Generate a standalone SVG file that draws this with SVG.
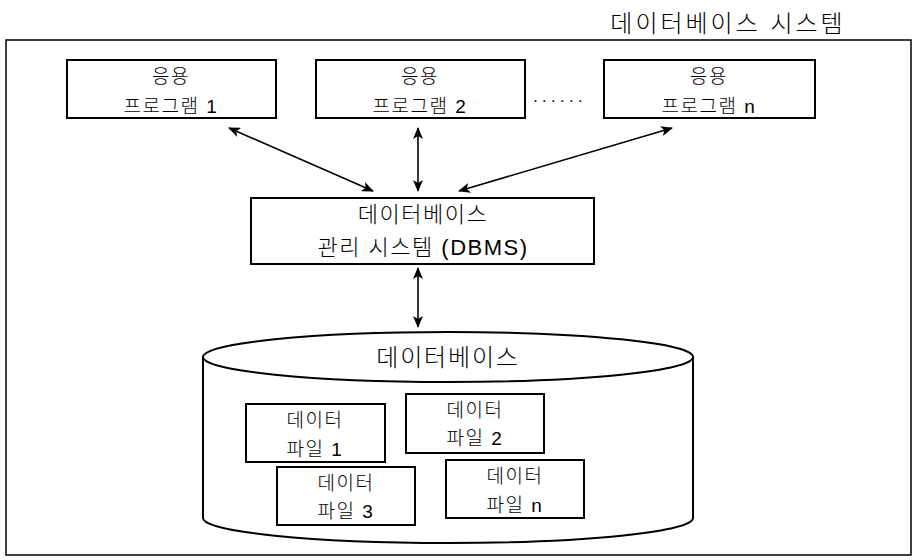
<svg xmlns="http://www.w3.org/2000/svg" width="915" height="560" viewBox="0 0 915 560">
<defs>
<style>
.box{fill:#fff;stroke:#000;stroke-width:2}
.t{font-family:"Liberation Sans","Noto Sans CJK KR",sans-serif;fill:#000;text-anchor:middle;font-weight:300}
.s19{font-size:19px;letter-spacing:1.5px}
.s22{font-size:22px;letter-spacing:1.5px}
.s24{font-size:24px;letter-spacing:1.8px}
.conn{stroke:#000;stroke-width:1.6;fill:none;marker-start:url(#ah);marker-end:url(#ah)}
</style>
<marker id="ah" viewBox="0 0 12 10" refX="11" refY="5" markerWidth="12" markerHeight="10" markerUnits="userSpaceOnUse" orient="auto-start-reverse">
<path d="M0,0 L12,5 L0,10 L3,5 Z" fill="#000"/>
</marker>
</defs>
<rect width="915" height="560" fill="#fff"/>
<text class="t" style="font-size:24px;letter-spacing:3px" x="728" y="32">데이터베이스 시스템</text>
<rect id="frame" x="6" y="40" width="905" height="515" fill="none" stroke="#000" stroke-width="1.5"/>

<g id="app1"><rect class="box" x="67" y="60" width="209" height="58"/>
<text class="t s19" x="171" y="83">응용</text><text class="t s19" x="171" y="113">프로그램 1</text></g>
<g id="app2"><rect class="box" x="316" y="60" width="209" height="58"/>
<text class="t s19" x="420" y="83">응용</text><text class="t s19" x="420" y="113">프로그램 2</text></g>
<text class="t" style="font-size:16px;letter-spacing:4.5px" x="560" y="102">......</text>
<g id="appn"><rect class="box" x="604" y="60" width="211" height="58"/>
<text class="t s19" x="709" y="83">응용</text><text class="t s19" x="709" y="113">프로그램 n</text></g>

<g id="dbms"><rect class="box" x="251" y="198" width="343" height="66"/>
<text class="t s22" x="423" y="222">데이터베이스</text><text class="t s22" x="423" y="255">관리 시스템 (DBMS)</text></g>

<g id="db">
<path d="M203,357 L203,518 A245,25 0 0 0 693,518 L693,357" fill="#fff" stroke="#000" stroke-width="2"/>
<ellipse cx="448" cy="357" rx="245" ry="25" fill="#fff" stroke="#000" stroke-width="2"/>
<text class="t s24" x="448" y="366">데이터베이스</text>
</g>
<g id="file1"><rect class="box" x="246" y="404" width="139" height="58"/>
<text class="t s19" x="315" y="427">데이터</text><text class="t s19" x="315" y="456">파일 1</text></g>
<g id="file2"><rect class="box" x="406" y="394" width="138" height="59"/>
<text class="t s19" x="475" y="417">데이터</text><text class="t s19" x="475" y="445">파일 2</text></g>
<g id="file3"><rect class="box" x="277" y="467" width="138" height="58"/>
<text class="t s19" x="346" y="490">데이터</text><text class="t s19" x="346" y="518">파일 3</text></g>
<g id="filen"><rect class="box" x="446" y="460" width="138" height="58"/>
<text class="t s19" x="515" y="483">데이터</text><text class="t s19" x="515" y="512">파일 n</text></g>

<g id="connectors">
<line class="conn" x1="229" y1="128" x2="373" y2="191"/>
<line class="conn" x1="418" y1="128" x2="418" y2="191"/>
<line class="conn" x1="672" y1="128" x2="459" y2="191"/>
<line class="conn" x1="418" y1="268" x2="418" y2="327"/>
</g>
</svg>
